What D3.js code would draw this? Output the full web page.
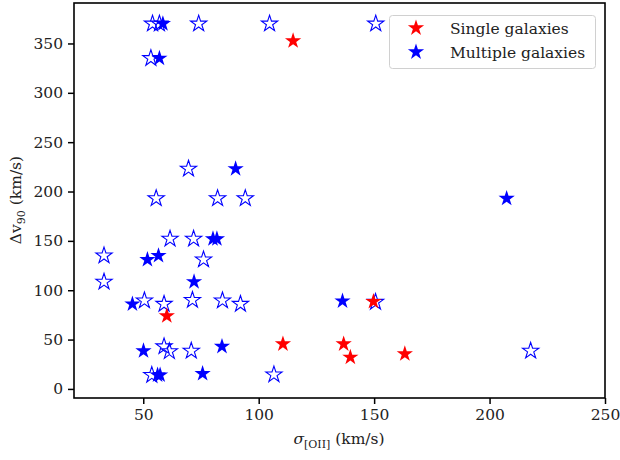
<!DOCTYPE html>
<html><head><meta charset="utf-8">
<script src="https://cdn.jsdelivr.net/npm/d3@7"></script>
<style>body{margin:0;background:#fff}svg{display:block}</style>
</head><body>
<svg id="chart" width="620" height="460"></svg>
<script>
// ---- data ----
const singleSigma = [114.9, 60.2, 110.5, 136.8, 139.7, 149.7, 163.3];
const singleDv    = [352.6, 74, 45.5, 45.5, 32, 88.5, 35.5];

const multiSigma = [58.5, 57, 90, 207.4, 80.2, 81.9, 51.8, 56.6, 72, 45.3, 50.1, 84.1, 56.2, 57.3, 75.7, 136.3];
const multiDv    = [370, 335, 223, 193, 152, 152, 131, 135, 108.5, 86, 38.5, 43, 14, 14, 15.5, 89];

const openSigma = [54, 57, 74, 104.7, 150.7, 53.3, 69.6, 55.6, 82.2, 94.2, 61.6, 71.8, 33, 33, 76.1, 50.5, 59, 71.3, 84.3, 92.1, 59, 61.3, 70.8, 53.7, 106.6, 150.6, 217.8];
const openDv    = [370, 370, 370, 370, 370, 335, 223, 193, 193, 193, 152, 152, 135, 108.5, 131, 89.5, 86, 90, 89.5, 86, 43, 38, 38.5, 14, 14.5, 88, 38.5];

const xTicks = [50, 100, 150, 200, 250];
const yTicks = [0, 50, 100, 150, 200, 250, 300, 350];
const legendLabels = ["Single galaxies", "Multiple galaxies"];
const legendColors = ["#ff0000", "#0000ff"];

// ---- chart ----
const FONT = "DejaVu Serif";
const FS = "15.5px";
const svg = d3.select("#chart");
const L = 74, R = 605, T = 3, B = 398;
const x = d3.scaleLinear().domain([20, 250]).range([L, R]);
const y = d3.scaleLinear().domain([-9.2, 391]).range([B, T]);
const star = d3.symbol().type(d3.symbolStar).size(82);

function pts(xs, ys){ return xs.map((v,i)=>({x:v,y:ys[i]})); }

const gx = svg.append("g").attr("transform",`translate(0,${B})`)
  .call(d3.axisBottom(x).tickValues(xTicks).tickSize(6).tickPadding(5).tickFormat(d3.format("d")));
const gy = svg.append("g").attr("transform",`translate(${L},0)`)
  .call(d3.axisLeft(y).tickValues(yTicks).tickSize(6).tickPadding(5).tickFormat(d3.format("d")));
[gx,gy].forEach(g=>{
  g.attr("font-family", null).attr("font-size", null);
  g.select(".domain").remove();
  g.selectAll(".tick line").attr("stroke","#000").attr("stroke-width",1.5);
  g.selectAll(".tick text").attr("fill","#222").style("font-family", FONT).style("font-size", FS);
});

// points
svg.append("g").selectAll("path").data(pts(openSigma, openDv)).join("path")
  .attr("d", star).attr("transform", d=>`translate(${x(d.x)},${y(d.y)})`)
  .attr("fill","none").attr("stroke","#0000ff").attr("stroke-width",1.1);
svg.append("g").selectAll("path").data(pts(multiSigma, multiDv)).join("path")
  .attr("d", star).attr("transform", d=>`translate(${x(d.x)},${y(d.y)})`)
  .attr("fill","#0000ff");
svg.append("g").selectAll("path").data(pts(singleSigma, singleDv)).join("path")
  .attr("d", star).attr("transform", d=>`translate(${x(d.x)},${y(d.y)})`)
  .attr("fill","#ff0000");

// frame
svg.append("rect").attr("x",L).attr("y",T).attr("width",R-L).attr("height",B-T)
  .attr("fill","none").attr("stroke","#000").attr("stroke-width",1.6);

// legend
const lg = svg.append("g");
lg.append("rect").attr("x",389.5).attr("y",15.5).attr("width",206).attr("height",53).attr("rx",3)
  .attr("fill","#fff").attr("fill-opacity",0.8).attr("stroke","#d0d0d0").attr("stroke-width",1);
legendLabels.forEach((lab,i)=>{
  const cy = 28 + i*24;
  lg.append("path").attr("d", star).attr("transform",`translate(416,${cy})`).attr("fill",legendColors[i]);
  lg.append("text").attr("x",450).attr("y",cy+5.5).attr("fill","#222").style("font-family", FONT).style("font-size", FS).text(lab);
});

// axis labels
const xl = svg.append("text").attr("x",339).attr("y",444).attr("text-anchor","middle")
  .style("font-family", FONT).style("font-size", FS).attr("fill","#222");
xl.append("tspan").attr("font-style","italic").text("σ");
xl.append("tspan").attr("dy",4).style("font-size","11px").text("[OII]");
xl.append("tspan").attr("dy",-4).text(" (km/s)");

const yl = svg.append("text").attr("transform","translate(21,200) rotate(-90)").attr("text-anchor","middle")
  .style("font-family", FONT).style("font-size", FS).attr("fill","#222");
yl.append("tspan").text("Δv");
yl.append("tspan").attr("dy",4).style("font-size","11px").text("90");
yl.append("tspan").attr("dy",-4).text(" (km/s)");
</script>
</body></html>
